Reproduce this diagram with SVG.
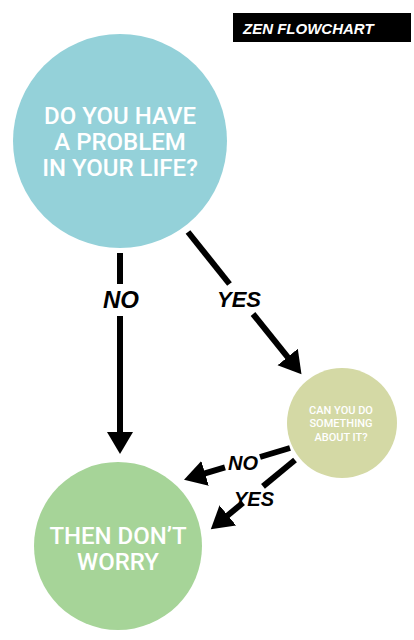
<svg xmlns="http://www.w3.org/2000/svg" width="414" height="640" viewBox="0 0 414 640">
<style>
.q{fill:#fff;font-family:Roboto,"Liberation Sans",Arial,sans-serif;font-weight:500;text-anchor:middle}
.lbl{fill:#000;font-family:"Liberation Sans",Arial,sans-serif;font-weight:bold;font-style:italic;text-anchor:middle}
.ln{stroke:#000;stroke-width:6;fill:none}
</style>
<defs>
<marker id="ah" markerUnits="userSpaceOnUse" markerWidth="24" markerHeight="28" refX="1" refY="13" orient="auto" viewBox="0 0 24 26">
<path d="M0,0 L22,13 L0,26 Z" fill="#000"/>
</marker>
</defs>
<rect width="414" height="640" fill="#fff"/>
<g id="title">
<rect x="233" y="13" width="178" height="29" fill="#000"/>
<text x="243" y="34" font-family="Liberation Sans,Arial,sans-serif" font-weight="bold" font-style="italic" font-size="15" fill="#fff">ZEN FLOWCHART</text>
</g>
<g id="connectors">
<line class="ln" x1="120" y1="253" x2="120" y2="284"/>
<line class="ln" x1="120" y1="316" x2="120" y2="433" marker-end="url(#ah)"/>
<text class="lbl" x="121" y="308" font-size="24">NO</text>
<line class="ln" x1="188" y1="232" x2="229.5" y2="284"/>
<line class="ln" x1="253" y1="314" x2="288.3" y2="357.8" marker-end="url(#ah)"/>
<text class="lbl" x="239" y="307" font-size="22">YES</text>
<line class="ln" x1="290" y1="448" x2="260" y2="457"/>
<line class="ln" x1="225" y1="467.4" x2="204.1" y2="473.7" marker-end="url(#ah)"/>
<text class="lbl" x="243" y="470" font-size="20">NO</text>
<line class="ln" x1="295" y1="460" x2="263" y2="486.4"/>
<line class="ln" x1="243" y1="502.8" x2="227" y2="516" marker-end="url(#ah)"/>
<text class="lbl" x="254" y="506" font-size="20">YES</text>
</g>
<g id="problem">
<circle cx="120" cy="141" r="107" fill="#94D1D9"/>
<text class="q" font-size="24"><tspan x="120" y="124">DO YOU HAVE</tspan><tspan x="120" y="150">A PROBLEM</tspan><tspan x="120" y="176">IN YOUR LIFE?</tspan></text>
</g>
<g id="can-you">
<circle cx="342" cy="423" r="55" fill="#D4D9A5"/>
<text class="q" font-size="11"><tspan x="341" y="414">CAN YOU DO</tspan><tspan x="341" y="427">SOMETHING</tspan><tspan x="341" y="441">ABOUT IT?</tspan></text>
</g>
<g id="dont-worry">
<circle cx="118" cy="546" r="84" fill="#A6D498"/>
<text class="q" font-size="24"><tspan x="118" y="544">THEN DON’T</tspan><tspan x="118" y="570">WORRY</tspan></text>
</g>
</svg>
